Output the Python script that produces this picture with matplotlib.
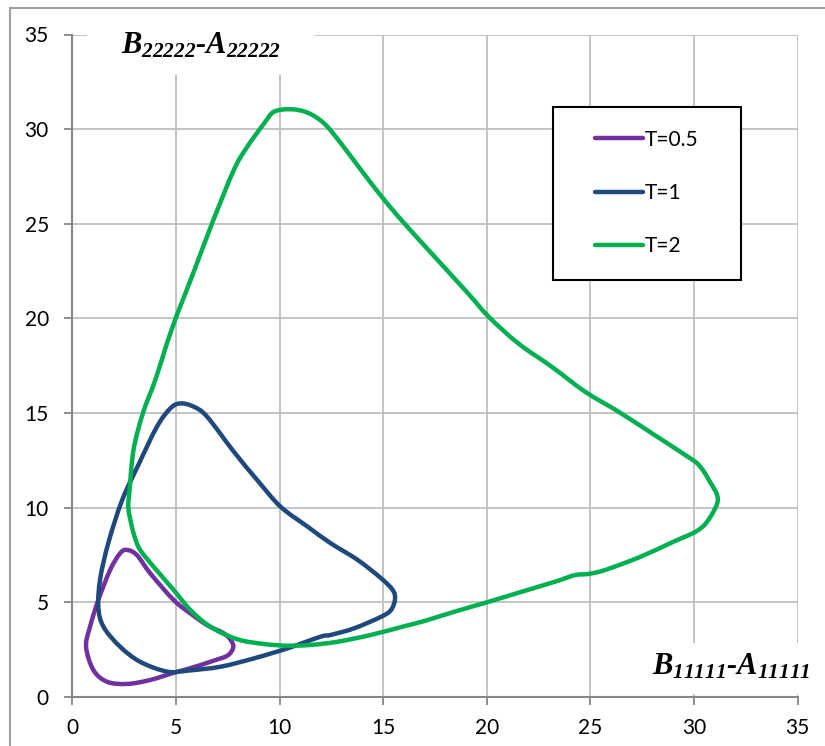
import numpy as np
import matplotlib
matplotlib.use("Agg")
import matplotlib.pyplot as plt
from matplotlib.patches import Rectangle, PathPatch
from matplotlib.path import Path
from matplotlib.lines import Line2D

plt.rcParams['font.family'] = ['Lato', 'DejaVu Sans']
plt.rcParams['mathtext.fontset'] = 'custom'
plt.rcParams['mathtext.rm'] = 'Liberation Serif:italic:bold'
plt.rcParams['mathtext.it'] = 'Liberation Serif:italic:bold'
plt.rcParams['mathtext.bf'] = 'Liberation Serif:italic:bold'

# T=0.5 loop
x_t05 = [2.63, 3.11, 3.76, 4.89, 5.69, 6.5, 7.31, 7.65, 7.76, 7.5, 6.82, 5.69, 4.89,
         3.76, 2.63, 1.66, 1.01, 0.66, 0.85, 1.25, 1.82, 2.3, 2.63]
y_t05 = [7.77, 7.5, 6.53, 5.12, 4.42, 3.8, 3.36, 3.0, 2.62, 2.2, 1.92, 1.52, 1.28,
         0.9, 0.69, 0.81, 1.43, 2.66, 3.71, 5.12, 6.71, 7.59, 7.77]

# T=1 loop
x_t1 = [5.21, 5.85, 6.5, 7.79, 8.92, 10.05, 11.35, 12.47, 13.77, 14.9, 15.46, 15.57,
        15.38, 14.9, 13.6, 12.47, 11.99, 10.38, 8.76, 7.15, 5.53, 4.57, 3.27, 2.3,
        1.5, 1.25, 1.35, 1.75, 2.4, 3.2, 4.08, 4.73, 5.21]
y_t1 = [15.51, 15.34, 14.81, 12.96, 11.46, 10.05, 9.0, 8.12, 7.24, 6.27, 5.65, 5.18,
        4.6, 4.24, 3.63, 3.28, 3.19, 2.57, 2.04, 1.6, 1.39, 1.34, 1.86, 2.66,
        3.71, 4.77, 6.3, 8.2, 10.4, 12.3, 14.28, 15.25, 15.51]

# T=2 loop
x_t2 = [10.54, 11.35, 12.15, 12.96, 13.93, 15.06, 16.02, 17.48, 19.09, 20.09, 21.52,
        23.13, 24.74, 26.36, 27.97, 29.58, 30.23, 30.72, 31.15, 30.72, 30.15, 29.0,
        27.4, 25.71, 24.9, 24.26, 23.29, 21.68, 20.09, 18.45, 17.0, 16.02, 14.41,
        12.8, 11.5, 10.38, 9.25, 7.96, 6.66, 5.69, 4.89, 3.92, 3.27, 3.03, 2.87,
        2.7, 2.76, 2.95, 3.4, 4.0, 4.81, 5.86, 6.74, 7.79, 8.44, 9.25, 9.73, 10.54]
y_t2 = [31.05, 30.87, 30.3, 29.25, 27.84, 26.25, 25.02, 23.26, 21.33, 20.09, 18.68,
        17.45, 16.13, 15.07, 13.93, 12.78, 12.26, 11.46, 10.45, 9.4, 8.78, 8.2,
        7.4, 6.71, 6.5, 6.44, 6.09, 5.56, 5.03, 4.51, 4.02, 3.74, 3.28,
        2.92, 2.75, 2.71, 2.8, 3.05, 3.71, 4.6, 5.65, 6.88, 7.77, 8.38, 9.0,
        10.0, 10.94, 13.05, 14.99, 16.75, 19.48, 22.47, 25.02, 27.84, 29.07, 30.3, 30.92, 31.05]

labels = ['T=0.5', 'T=1', 'T=2']
colors = ['#7030A0', '#1F497D', '#00B050']
ticks = [0, 5, 10, 15, 20, 25, 30, 35]


def smooth_loop(xs, ys):
    # closed smoothed line (like Excel "smoothed line"), drawn as bezier segments
    p = np.column_stack([xs[:-1], ys[:-1]])
    n = len(p)
    verts = [p[0]]
    codes = [Path.MOVETO]
    for i in range(n):
        p0, p1, p2, p3 = p[i - 1], p[i], p[(i + 1) % n], p[(i + 2) % n]
        verts += [p1 + (p2 - p0) / 6, p2 - (p3 - p1) / 6, p2]
        codes += [Path.CURVE4] * 3
    return Path(verts, codes)


fig = plt.figure(figsize=(8.25, 7.46), dpi=100)
ax = fig.add_axes([72.4 / 825, 1 - 697 / 746, 725.2 / 825, 662.5 / 746])

handles = []
for xs, ys, c, lab in zip([x_t05, x_t1, x_t2], [y_t05, y_t1, y_t2], colors, labels):
    ax.add_patch(PathPatch(smooth_loop(xs, ys), fill=False, edgecolor=c, lw=3.2,
                           joinstyle='round', zorder=2))
    handles.append(Line2D([], [], color=c, lw=3.2, solid_capstyle='round', label=lab))

ax.set_xlim(0, 35)
ax.set_ylim(0, 35)
ax.set_xticks(ticks)
ax.set_yticks(ticks)
ax.grid(True, color='#bfbfbf', lw=1.3)
ax.set_axisbelow(True)
for s in ['top', 'right']:
    ax.spines[s].set_visible(False)
for s in ['left', 'bottom']:
    ax.spines[s].set_color('#868686')
    ax.spines[s].set_linewidth(1.5)
ax.tick_params(axis='both', direction='out', length=6, width=1.3, color='#868686',
               labelsize=15)
ax.tick_params(axis='y', pad=11)
ax.tick_params(axis='x', pad=9)

# axis titles inside the plot area, on white boxes
ax.add_patch(Rectangle((0.0201, 0.9389), 0.3144, 0.08, transform=ax.transAxes,
                       facecolor='white', edgecolor='none', zorder=3, clip_on=False))
ax.add_patch(Rectangle((0.7827, 0.0045), 0.34, 0.077, transform=ax.transAxes,
                       facecolor='white', edgecolor='none', zorder=3, clip_on=False))
ax.text(0.1773, 0.9826, r'$B_{22222}$-$A_{22222}$', transform=ax.transAxes,
        ha='center', va='center', fontsize=22, family='Liberation Serif',
        style='italic', weight='bold', zorder=6)
ax.text(0.9082, 0.0453, r'$B_{11111}$-$A_{11111}$', transform=ax.transAxes,
        ha='center', va='center', fontsize=22, family='Liberation Serif',
        style='italic', weight='bold', zorder=6, clip_on=False)

# legend box
ax.add_patch(Rectangle((553 / 825, 1 - 280 / 746), 188 / 825, 173 / 746,
                       transform=fig.transFigure, facecolor='white', edgecolor='black',
                       lw=1.5, zorder=4, clip_on=False))
leg = ax.legend(handles=handles, loc='center left',
                bbox_to_anchor=(595 / 825, 1 - 193 / 746),
                bbox_transform=fig.transFigure, frameon=False, fontsize=15,
                handlelength=2.3, handletextpad=0.1, labelspacing=1.6,
                borderpad=0, borderaxespad=0)
leg.set_zorder(5)

# outer chart border
fig.patches.append(Rectangle((10 / 825, -0.1), 1.2, 1 - 8 / 746 + 0.1,
                             transform=fig.transFigure, fill=False,
                             edgecolor='#a0a0a0', lw=1.5))

fig.savefig('out.png', dpi=100)
